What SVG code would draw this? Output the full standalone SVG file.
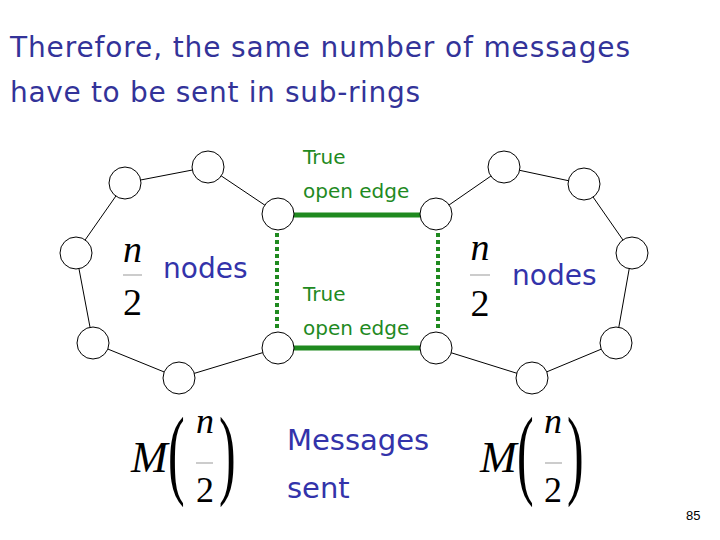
<svg xmlns="http://www.w3.org/2000/svg" width="720" height="540" viewBox="0 0 720 540">
<style>
.title{font-family:"Comic Sans MS","DejaVu Sans",sans-serif;font-size:28px;fill:#333399}
.blue{font-family:"Comic Sans MS","DejaVu Sans",sans-serif;fill:#3333aa}
.green{font-family:"Comic Sans MS","DejaVu Sans",sans-serif;font-size:20px;fill:#1f8a1f}
.node{fill:#fff;stroke:#000;stroke-width:1}
.edge{stroke:#000;stroke-width:1;fill:none}
.open{stroke:#1f8a1f;stroke-width:5}
.dot{stroke:#1f8a1f;stroke-width:4;stroke-dasharray:4 3}
.math{font-family:"Liberation Serif","Times New Roman",serif;fill:#000}
.it{font-style:italic}
.frac{stroke:#999;stroke-width:1}
</style>
<rect width="720" height="540" fill="#fff"/>
<text class="title" x="10" y="57" textLength="620">Therefore, the same number of messages</text>
<text class="title" x="10" y="102" textLength="410">have to be sent in sub-rings</text>

<g id="connectors">
<line class="edge" x1="278" y1="214" x2="208" y2="167"/>
<line class="edge" x1="208" y1="167" x2="125" y2="183"/>
<line class="edge" x1="125" y1="183" x2="76" y2="253"/>
<line class="edge" x1="76" y1="253" x2="93" y2="343"/>
<line class="edge" x1="93" y1="343" x2="179" y2="378"/>
<line class="edge" x1="179" y1="378" x2="278" y2="348"/>
<line class="edge" x1="436" y1="214" x2="504" y2="167"/>
<line class="edge" x1="504" y1="167" x2="584" y2="184"/>
<line class="edge" x1="584" y1="184" x2="632" y2="253"/>
<line class="edge" x1="632" y1="253" x2="616" y2="343"/>
<line class="edge" x1="616" y1="343" x2="532" y2="378"/>
<line class="edge" x1="532" y1="378" x2="436" y2="348"/>
<line class="open" x1="278" y1="215" x2="436" y2="215"/>
<line class="open" x1="278" y1="348" x2="436" y2="348"/>
<line class="dot" x1="277" y1="233" x2="277" y2="328"/>
<line class="dot" x1="438" y1="233" x2="438" y2="328"/>
</g>

<g id="nA"><circle class="node" cx="125" cy="183" r="16"/></g>
<g id="nB"><circle class="node" cx="208" cy="167" r="16"/></g>
<g id="nC"><circle class="node" cx="278" cy="214" r="16"/></g>
<g id="nD"><circle class="node" cx="76" cy="253" r="16"/></g>
<g id="nE"><circle class="node" cx="93" cy="343" r="16"/></g>
<g id="nF"><circle class="node" cx="179" cy="378" r="16"/></g>
<g id="nG"><circle class="node" cx="278" cy="348" r="16"/></g>
<g id="nH"><circle class="node" cx="436" cy="214" r="16"/></g>
<g id="nI"><circle class="node" cx="504" cy="167" r="16"/></g>
<g id="nJ"><circle class="node" cx="584" cy="184" r="16"/></g>
<g id="nK"><circle class="node" cx="632" cy="253" r="16"/></g>
<g id="nL"><circle class="node" cx="616" cy="343" r="16"/></g>
<g id="nM"><circle class="node" cx="532" cy="378" r="16"/></g>
<g id="nN"><circle class="node" cx="436" cy="348" r="16"/></g>

<text class="green" x="303" y="164">True</text>
<text class="green" x="303" y="198">open edge</text>
<text class="green" x="303" y="301">True</text>
<text class="green" x="303" y="335">open edge</text>

<g id="leftLabel">
<text class="math it" x="132.5" y="262" font-size="38" text-anchor="middle">n</text>
<line class="frac" x1="123" y1="275" x2="142" y2="275"/>
<text class="math" x="132.5" y="315" font-size="38" text-anchor="middle">2</text>
<text class="blue" x="163" y="278" font-size="28">nodes</text>
</g>
<g id="rightLabel">
<text class="math it" x="480" y="260" font-size="38" text-anchor="middle">n</text>
<line class="frac" x1="470" y1="275" x2="490" y2="275"/>
<text class="math" x="480" y="316" font-size="38" text-anchor="middle">2</text>
<text class="blue" x="512" y="285" font-size="28">nodes</text>
</g>

<g id="leftM">
<text class="math it" x="131" y="472" font-size="44">M</text>
<text class="math" transform="translate(168,486) scale(0.5,1)" font-size="100">(</text>
<text class="math it" x="205" y="433" font-size="36" text-anchor="middle">n</text>
<line class="frac" x1="196" y1="463" x2="213" y2="463"/>
<text class="math" x="205" y="502" font-size="36" text-anchor="middle">2</text>
<text class="math" transform="translate(219,486) scale(0.5,1)" font-size="100">)</text>
</g>
<g id="rightM">
<text class="math it" x="480" y="472" font-size="44">M</text>
<text class="math" transform="translate(517,486) scale(0.5,1)" font-size="100">(</text>
<text class="math it" x="553" y="433" font-size="36" text-anchor="middle">n</text>
<line class="frac" x1="545" y1="463" x2="562" y2="463"/>
<text class="math" x="553" y="502" font-size="36" text-anchor="middle">2</text>
<text class="math" transform="translate(567,486) scale(0.5,1)" font-size="100">)</text>
</g>

<text class="blue" x="287" y="450" font-size="29">Messages</text>
<text class="blue" x="287" y="498" font-size="29">sent</text>
<text x="686" y="520" font-family="Liberation Sans,Arial,sans-serif" font-size="13" fill="#000">85</text>
</svg>
